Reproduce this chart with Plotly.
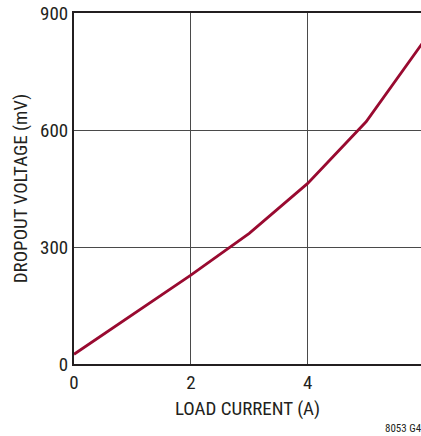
import plotly.graph_objects as go

load_current = [0, 1, 2, 3, 4, 5, 6]
dropout_mv = [25, 126, 228, 335, 463, 621, 830]

x_ticks = [0, 2, 4]
y_ticks = [0, 300, 600, 900]

font_family = "Liberation Sans Narrow, Arial Narrow, Roboto Condensed, Liberation Sans, sans-serif"

fig = go.Figure()
fig.add_trace(go.Scatter(
    x=load_current, y=dropout_mv, mode="lines",
    line=dict(color="#990a30", width=2.8),
    hoverinfo="skip", showlegend=False,
))

fig.update_layout(
    width=421, height=436,
    margin=dict(l=74, r=0, t=13, b=72),
    paper_bgcolor="white", plot_bgcolor="white",
    font=dict(family=font_family, size=19, color="#231f20"),
    xaxis=dict(
        range=[0, 5.94], tickvals=x_ticks, ticktext=[str(v) for v in x_ticks],
        showgrid=True, gridcolor="#4a4a4a", gridwidth=1,
        showline=True, linecolor="#231f20", linewidth=2, mirror=True,
        ticks="", zeroline=False,
        title=dict(text="LOAD CURRENT (A)", standoff=9, font=dict(size=19)),
        tickfont=dict(size=19),
    ),
    yaxis=dict(
        range=[0, 900], tickvals=y_ticks, ticktext=[str(v) for v in y_ticks],
        showgrid=True, gridcolor="#4a4a4a", gridwidth=1,
        showline=True, linecolor="#231f20", linewidth=2,
        ticks="", zeroline=False,
        title=dict(text="DROPOUT VOLTAGE (mV)", standoff=7, font=dict(size=19)),
        tickfont=dict(size=19),
    ),
    annotations=[dict(
        text="8053 G4", xref="paper", yref="paper", x=1, y=0,
        xanchor="right", yanchor="top", yshift=-56, xshift=3,
        showarrow=False, font=dict(size=11, family=font_family),
    )],
)

fig.write_html("out.html", config={"displayModeBar": False},
               post_script="document.body.style.margin='0';document.body.style.padding='0';")
